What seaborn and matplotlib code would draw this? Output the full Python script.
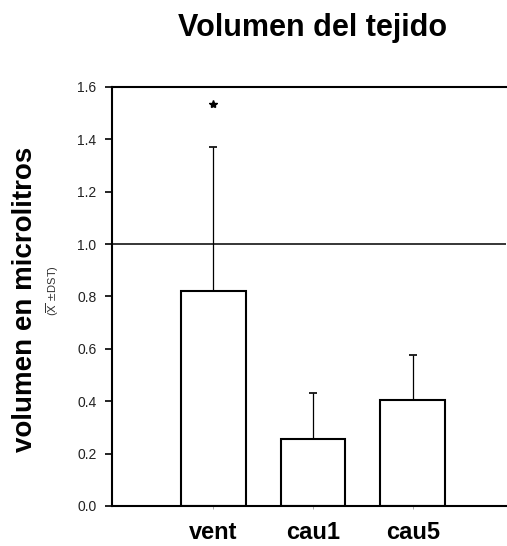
import matplotlib
matplotlib.use("Agg")
import matplotlib.pyplot as plt
import seaborn as sns
import pandas as pd

categories = ["vent", "cau1", "cau5"]
means = [0.82, 0.255, 0.406]
errors = [0.551, 0.178, 0.170]
yticks = [0.0, 0.2, 0.4, 0.6, 0.8, 1.0, 1.2, 1.4, 1.6]
star_y = 1.535
ref_line = 1.0

sns.set_style("ticks")
plt.rcParams['font.family'] = ['Liberation Sans', 'DejaVu Sans']
plt.rcParams['text.color'] = 'black'

df = pd.DataFrame({"grupo": categories, "volumen": means})

fig = plt.figure(figsize=(5.07, 5.46), dpi=100)
ax = fig.add_axes([0.2203, 0.0733, 0.7777, 0.7674])

sns.barplot(data=df, x="grupo", y="volumen", order=categories, color="white",
            edgecolor="black", linewidth=1.5, width=0.65, errorbar=None, ax=ax,
            zorder=2)
ax.errorbar(range(len(categories)), means, yerr=[[0] * 3, errors], fmt="none",
            ecolor="black", elinewidth=0.9, capsize=3, capthick=1.2, zorder=1)
ax.axhline(ref_line, color="black", lw=1.1, zorder=0)
ax.plot([0], [star_y], marker="*", color="black", markersize=6, ls="none")

ax.set_xlim(-1.019, 2.934)
ax.set_ylim(0, 1.6)
ax.set_yticks(yticks)
ax.set_yticklabels([f"{v:.1f}" for v in yticks], fontsize=10, color="#222222")
ax.set_xticks(range(len(categories)))
ax.set_xticklabels(categories, fontsize=17, fontweight="bold")
ax.tick_params(axis="y", direction="out", length=5, width=1.2, pad=6, colors="black")
ax.tick_params(axis="x", direction="out", length=2, width=0.6, pad=9, colors="#999999")
for lbl in ax.get_xticklabels():
    lbl.set_color("black")
for lbl in ax.get_yticklabels():
    lbl.set_color("#222222")

for side in ["left", "bottom", "top"]:
    ax.spines[side].set_linewidth(1.5)
    ax.spines[side].set_color("black")
ax.spines["right"].set_visible(False)

ax.set_xlabel("")
ax.set_ylabel("")
fig.text(0.049, 0.452, "volumen en microlitros", rotation=90, fontsize=20,
         fontweight="bold", ha="center", va="center", color="black")
fig.text(0.104, 0.468, r"($\overline{\mathrm{X}}$ $\pm$DST)", rotation=90,
         fontsize=8, ha="center", va="center", color="#333333")
fig.text(0.617, 0.949, "Volumen del tejido", fontsize=22, fontweight="bold",
         ha="center", va="center", color="black")

fig.savefig("out.png", dpi=100, facecolor="white")
